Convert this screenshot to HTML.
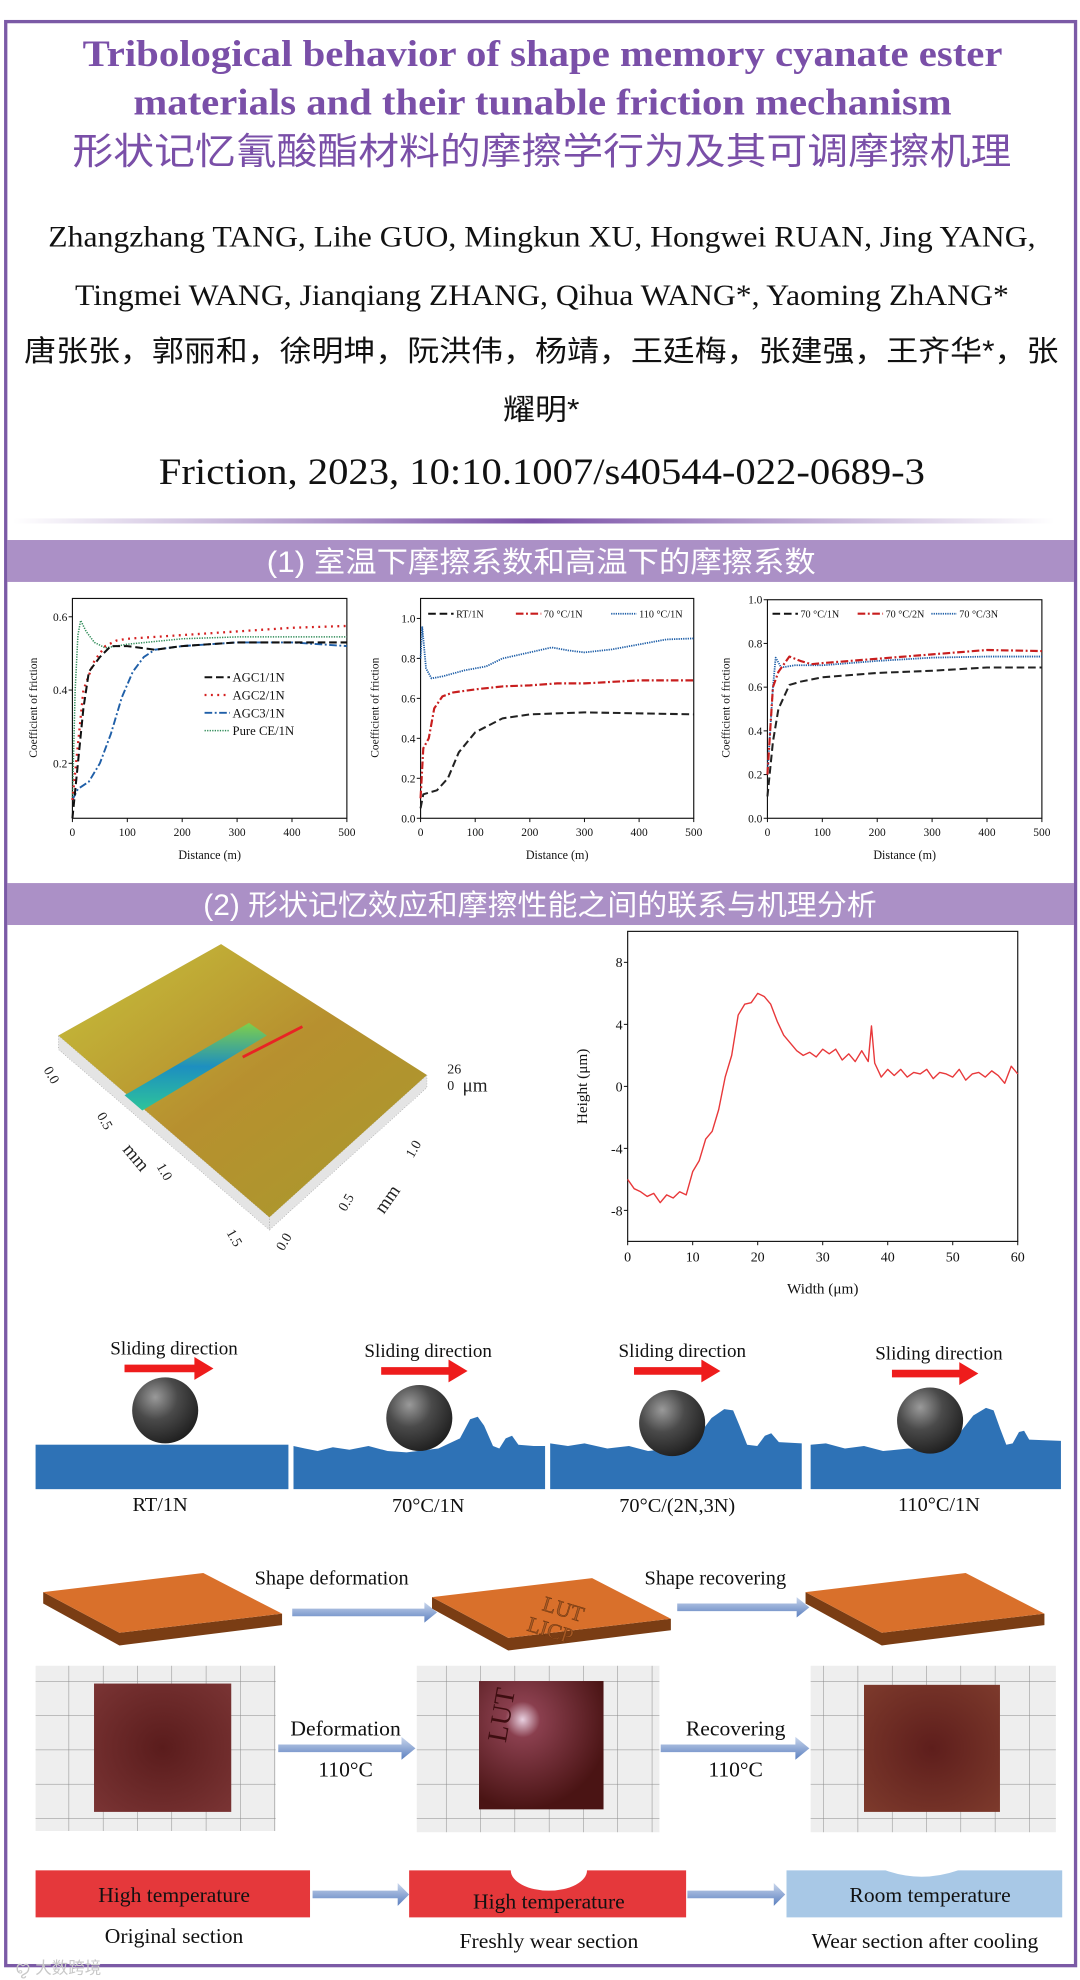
<!DOCTYPE html>
<html><head><meta charset="utf-8"><title>Shape memory cyanate ester friction</title>
<style>
html,body{margin:0;padding:0;background:#fff;}
svg{display:block;}
.serif{font-family:"Liberation Serif","Noto Serif CJK SC",serif;}
.cjk{font-family:"Liberation Sans","Noto Sans CJK SC",sans-serif;}
</style></head>
<body>
<svg id="page" xmlns="http://www.w3.org/2000/svg" width="1080" height="1980" viewBox="0 0 850 1558.3" preserveAspectRatio="none">
<defs>
<linearGradient id="divGrad" x1="0" x2="1" y1="0" y2="0">
<stop offset="0" stop-color="#7b52a8" stop-opacity="0"/><stop offset="0.5" stop-color="#7b52a8"/><stop offset="1" stop-color="#7b52a8" stop-opacity="0"/></linearGradient>
<radialGradient id="ballGrad" cx="0.35" cy="0.3" r="0.75">
<stop offset="0" stop-color="#9a9a9a"/><stop offset="0.45" stop-color="#4a4a4a"/><stop offset="1" stop-color="#1e1e1e"/></radialGradient>
<linearGradient id="arrowGrad" x1="0" x2="0" y1="0" y2="1">
<stop offset="0" stop-color="#c9d6ec"/><stop offset="1" stop-color="#5b7fbf"/></linearGradient>
<linearGradient id="surfGrad" x1="0" x2="1" y1="0" y2="1">
<stop offset="0" stop-color="#c7c23b"/><stop offset="0.5" stop-color="#b7902f"/><stop offset="1" stop-color="#a79a2c"/></linearGradient>
<linearGradient id="grooveGrad" x1="0" x2="0" y1="0" y2="1">
<stop offset="0" stop-color="#7fcf4a"/><stop offset="0.5" stop-color="#1d8fc0"/><stop offset="1" stop-color="#2ec49a"/></linearGradient>
<radialGradient id="sqGrad" cx="0.5" cy="0.5" r="0.7">
<stop offset="0" stop-color="#5a1c1c"/><stop offset="1" stop-color="#7a3434"/></radialGradient>
<radialGradient id="sqGrad2" cx="0.35" cy="0.3" r="0.7">
<stop offset="0" stop-color="#e8d0e0"/><stop offset="0.2" stop-color="#8a3f4e"/><stop offset="1" stop-color="#4a1414"/></radialGradient>
<radialGradient id="sqGrad3" cx="0.5" cy="0.5" r="0.7">
<stop offset="0" stop-color="#5e1e1c"/><stop offset="1" stop-color="#7d3a2c"/></radialGradient>
<pattern id="gridPat" width="27" height="27" patternUnits="userSpaceOnUse">
<rect width="27" height="27" fill="#eeeeee"/><path d="M0 0H27M0 0V27" stroke="#8a8a8a" stroke-width="0.8"/></pattern>
</defs>

<!-- frame -->
<rect x="4.5" y="17" width="842" height="1530" fill="#fff" stroke="#7b5aa6" stroke-width="2.6"/>

<!-- title -->
<g fill="#7a4fa8">
<text class="serif" x="65" y="52" font-size="29" font-weight="bold" textLength="724" lengthAdjust="spacingAndGlyphs">Tribological behavior of shape memory cyanate ester</text>
<text class="serif" x="105" y="90" font-size="29" font-weight="bold" textLength="644" lengthAdjust="spacingAndGlyphs">materials and their tunable friction mechanism</text>
<text class="cjk" x="57" y="129" font-size="29" textLength="739" lengthAdjust="spacingAndGlyphs">形状记忆氰酸酯材料的摩擦学行为及其可调摩擦机理</text>
</g>
<g fill="#111">
<text class="serif" x="38" y="194" font-size="23" textLength="777" lengthAdjust="spacingAndGlyphs">Zhangzhang TANG, Lihe GUO, Mingkun XU, Hongwei RUAN, Jing YANG,</text>
<text class="serif" x="59" y="240" font-size="23" textLength="735" lengthAdjust="spacingAndGlyphs">Tingmei WANG, Jianqiang ZHANG, Qihua WANG*, Yaoming ZhANG*</text>
<text class="cjk" x="19" y="284" font-size="23" textLength="814" lengthAdjust="spacingAndGlyphs">唐张张，郭丽和，徐明坤，阮洪伟，杨靖，王廷梅，张建强，王齐华*，张</text>
<text class="cjk" x="396" y="330" font-size="23" textLength="60" lengthAdjust="spacingAndGlyphs">耀明*</text>
<text class="serif" x="125" y="381" font-size="29" textLength="603" lengthAdjust="spacingAndGlyphs">Friction, 2023, 10:10.1007/s40544-022-0689-3</text>
</g>
<rect x="10" y="408" width="820" height="4" fill="url(#divGrad)"/>

<!-- section 1 -->
<rect x="5.8" y="425" width="839.5" height="33" fill="#ab90c6"/>
<text class="cjk" x="210" y="450" font-size="23" fill="#fff" textLength="432" lengthAdjust="spacingAndGlyphs">(1) 室温下摩擦系数和高温下的摩擦系数</text>
<g id="charts1"></g>

<!-- section 2 -->
<rect x="5.8" y="695" width="839.5" height="33" fill="#ab90c6"/>
<text class="cjk" x="160" y="720" font-size="23" fill="#fff" textLength="530" lengthAdjust="spacingAndGlyphs">(2) 形状记忆效应和摩擦性能之间的联系与机理分析</text>

<!-- 3D surface -->
<g>
<polygon points="174,743 46,815 46,824 174,752" fill="#d8d8d8"/>
<polygon points="46,815 212,958 212,968 46,826" fill="#e4e4e4" stroke="#999" stroke-width="0.5" stroke-dasharray="0.6,1.6"/>
<polygon points="212,958 336,846 336,856 212,968" fill="#e4e4e4" stroke="#999" stroke-width="0.5" stroke-dasharray="0.6,1.6"/>
<polygon points="174,743 46,815 212,958 336,846" fill="url(#surfGrad)"/>
<polygon points="98,862 196,805 210,815 112,874" fill="url(#grooveGrad)"/>
<line x1="191" y1="832" x2="238" y2="808" stroke="#e82424" stroke-width="2.2"/>
<g class="serif" font-size="11" fill="#222">
<text transform="translate(34,842) rotate(60)">0.0</text>
<text transform="translate(76,878) rotate(60)">0.5</text>
<text font-size="15" transform="translate(96,905) rotate(50)">mm</text>
<text transform="translate(123,918) rotate(60)">1.0</text>
<text transform="translate(178,970) rotate(60)">1.5</text>
<text transform="translate(223,985) rotate(-60)">0.0</text>
<text transform="translate(272,954) rotate(-60)">0.5</text>
<text font-size="15" transform="translate(302,956) rotate(-55)">mm</text>
<text transform="translate(325,912) rotate(-60)">1.0</text>
<text x="352" y="845" font-size="11">26</text>
<text x="352" y="858" font-size="11">0</text>
<text x="364" y="859" font-size="15">μm</text>
</g>
</g>

<g id="heightChart"></g>

<!-- sliding diagrams -->
<g id="sliding">
<g class="serif" font-size="15" fill="#111" text-anchor="middle">
<text x="137" y="1066">Sliding direction</text>
<text x="337" y="1068">Sliding direction</text>
<text x="537" y="1068">Sliding direction</text>
<text x="739" y="1070">Sliding direction</text>
</g>
<g fill="#ee1c1c">
<path d="M98 1074H153V1068L168 1077L153 1086V1080H98Z"/>
<path d="M300 1076H353V1070L368 1079L353 1088V1082H300Z"/>
<path d="M499 1076H552V1070L567 1079L552 1088V1082H499Z"/>
<path d="M702 1078H755V1072L770 1081L755 1090V1084H702Z"/>
</g>
<g fill="#2e72b6">
<rect x="28" y="1137" width="199" height="35"/>
<path d="M231 1172V1138L240 1140L250 1142L262 1139L275 1141L290 1138L305 1142L320 1143L345 1140L362 1132L370 1117L376 1115L381 1122L388 1138L393 1140L398 1132L403 1130L408 1137L420 1138L429 1138V1172Z"/>
<path d="M433 1172V1136L447 1138L460 1136L478 1140L495 1138L510 1142L530 1140L548 1132L560 1116L570 1109L577 1110L582 1122L588 1137L596 1138L602 1130L607 1128L613 1135L631 1136V1172Z"/>
<path d="M638 1172V1137L650 1136L665 1140L680 1138L695 1142L715 1140L735 1142L752 1132L766 1114L776 1108L782 1110L787 1124L792 1137L797 1136L802 1127L806 1126L810 1133L835 1134V1172Z"/>
</g>
<circle cx="130" cy="1110" r="26" fill="url(#ballGrad)"/>
<circle cx="330" cy="1116" r="26" fill="url(#ballGrad)"/>
<circle cx="529" cy="1120" r="26" fill="url(#ballGrad)"/>
<circle cx="732" cy="1118" r="26" fill="url(#ballGrad)"/>
<g class="serif" font-size="16" fill="#111" text-anchor="middle">
<text x="126" y="1189">RT/1N</text>
<text x="337" y="1190">70°C/1N</text>
<text x="533" y="1190">70°C/(2N,3N)</text>
<text x="739" y="1189">110°C/1N</text>
</g>
</g>

<!-- plates -->
<g>
<g transform="translate(0,0)">
<polygon points="34,1253 94,1285 222,1270 222,1279 94,1295 34,1262" fill="#7a3d14"/>
<polygon points="34,1253 160,1238 222,1270 94,1285" fill="#d9702b"/>
</g>
<g transform="translate(306,4)">
<polygon points="34,1253 94,1285 222,1270 222,1279 94,1295 34,1262" fill="#7a3d14"/>
<polygon points="34,1253 160,1238 222,1270 94,1285" fill="#d9702b"/>
<text class="serif" font-size="17" fill="#a85a25" stroke="#6b3510" stroke-width="0.4" transform="translate(120,1263) rotate(17)">LUT</text>
<text class="serif" font-size="17" fill="#a85a25" stroke="#6b3510" stroke-width="0.4" transform="translate(108,1279) rotate(17)">LICP</text>
</g>
<g transform="translate(600,0)">
<polygon points="34,1253 94,1285 222,1270 222,1279 94,1295 34,1262" fill="#7a3d14"/>
<polygon points="34,1253 160,1238 222,1270 94,1285" fill="#d9702b"/>
</g>
<text class="serif" x="261" y="1247" font-size="16" text-anchor="middle" fill="#111">Shape deformation</text>
<text class="serif" x="563" y="1247" font-size="16" text-anchor="middle" fill="#111">Shape recovering</text>
<path d="M230 1266H334V1261L344 1269L334 1277V1272H230Z" fill="url(#arrowGrad)"/>
<path d="M533 1262H627V1257L637 1265L627 1273V1268H533Z" fill="url(#arrowGrad)"/>
</g>

<!-- photos -->
<g>
<rect x="28" y="1311" width="189" height="130" fill="url(#gridPat)"/>
<rect x="74" y="1325" width="108" height="101" fill="url(#sqGrad)"/>
<rect x="328" y="1311" width="191" height="131" fill="url(#gridPat)"/>
<rect x="377" y="1323" width="98" height="101" fill="url(#sqGrad2)"/>
<text class="serif" font-size="22" fill="#3d0d10" transform="translate(398,1372) rotate(-80)">LUT</text>
<rect x="638" y="1311" width="193" height="131" fill="url(#gridPat)"/>
<rect x="680" y="1326" width="107" height="100" fill="url(#sqGrad3)"/>
<g class="serif" font-size="17" fill="#111" text-anchor="middle">
<text x="272" y="1366">Deformation</text>
<text x="272" y="1398">110°C</text>
<text x="579" y="1366">Recovering</text>
<text x="579" y="1398">110°C</text>
</g>
<path d="M219 1373H316V1367L327 1376L316 1385V1379H219Z" fill="url(#arrowGrad)"/>
<path d="M520 1373H626V1367L637 1376L626 1385V1379H520Z" fill="url(#arrowGrad)"/>
</g>

<!-- wear sections -->
<g>
<rect x="28" y="1472" width="216" height="37" fill="#e5383b"/>
<path d="M322 1472H402A30 16 0 0 0 462 1472H540V1509H322Z" fill="#e5383b"/>
<path d="M619 1472H697Q725 1482 754 1472H836V1509H619Z" fill="#a8c8e6"/>
<g class="serif" font-size="17" fill="#111" text-anchor="middle">
<text x="137" y="1497">High temperature</text>
<text x="432" y="1502">High temperature</text>
<text x="732" y="1497">Room temperature</text>
<text x="137" y="1529">Original section</text>
<text x="432" y="1533">Freshly wear section</text>
<text x="728" y="1533">Wear section after cooling</text>
</g>
<path d="M246 1488H313V1482L322 1491L313 1500V1494H246Z" fill="url(#arrowGrad)"/>
<path d="M541 1488H609V1482L618 1491L609 1500V1494H541Z" fill="url(#arrowGrad)"/>
</g>
<text class="cjk" x="12" y="1553" font-size="13" fill="#c8c8c8">ꨄ 大数跨境</text>
</svg>

<script>
// ===== Chart 1 data (room temperature) =====
const c1AGC1X = [0,10,20,30,50,70,100,150,200,300,400,500];
const c1AGC1Y = [0.05,0.2,0.35,0.45,0.49,0.52,0.52,0.51,0.52,0.53,0.53,0.53];
const c1AGC2X = [0,10,20,40,60,80,100,200,300,400,500];
const c1AGC2Y = [0.1,0.25,0.4,0.48,0.52,0.535,0.54,0.55,0.56,0.57,0.575];
const c1AGC3X = [0,10,30,50,70,90,110,130,150,200,300,400,500];
const c1AGC3Y = [0.1,0.13,0.15,0.2,0.28,0.38,0.45,0.49,0.51,0.52,0.53,0.53,0.52];
const c1CEX = [0,5,10,15,25,40,60,80,100,200,300,400,500];
const c1CEY = [0.1,0.4,0.55,0.59,0.56,0.53,0.515,0.52,0.525,0.54,0.545,0.545,0.545];
const c1YTicks = [0.2,0.4,0.6];
const c1YLabels = ["0.2","0.4","0.6"];
const distTicks = [0,100,200,300,400,500];
const distLabels = ["0","100","200","300","400","500"];
const c1Legend = ["AGC1/1N","AGC2/1N","AGC3/1N","Pure CE/1N"];
// ===== Chart 2 data (temperature) =====
const c2RTX = [0,5,30,50,70,100,150,200,300,400,500];
const c2RTY = [0.05,0.12,0.14,0.2,0.33,0.43,0.5,0.52,0.53,0.525,0.52];
const c2T70X = [0,5,15,25,40,60,100,150,200,250,300,400,500];
const c2T70Y = [0.1,0.35,0.4,0.55,0.61,0.63,0.645,0.66,0.665,0.675,0.675,0.69,0.69];
const c2T110X = [0,3,10,20,40,80,120,150,200,240,270,300,350,400,450,500];
const c2T110Y = [0.8,0.96,0.75,0.7,0.71,0.74,0.76,0.8,0.83,0.855,0.84,0.83,0.845,0.87,0.895,0.9];
const c2YTicks = [0,0.2,0.4,0.6,0.8,1.0];
const c2YLabels = ["0.0","0.2","0.4","0.6","0.8","1.0"];
const c2Legend = ["RT/1N","70 °C/1N","110 °C/1N"];
// ===== Chart 3 data (load) =====
const c3N1X = [0,10,20,40,60,100,150,200,300,400,500];
const c3N1Y = [0.1,0.35,0.5,0.61,0.625,0.645,0.655,0.665,0.675,0.69,0.69];
const c3N2X = [0,10,20,40,60,80,100,200,300,400,500];
const c3N2Y = [0.2,0.6,0.67,0.74,0.72,0.705,0.71,0.73,0.75,0.77,0.765];
const c3N3X = [0,10,15,25,50,100,200,300,400,500];
const c3N3Y = [0.2,0.6,0.735,0.69,0.7,0.7,0.72,0.735,0.74,0.74];
const c3YTicks = [0,0.2,0.4,0.6,0.8,1.0];
const c3YLabels = ["0.0","0.2","0.4","0.6","0.8","1.0"];
const c3Legend = ["70 °C/1N","70 °C/2N","70 °C/3N"];
// ===== Height profile data =====
const hWidth = [0,1,2,3,4,5,6,7,8,9,10,11,12,13,14,15,16,17,18,19,20,21,22,23,24,25,26,27,28,29,30,31,32,33,34,35,36,37,37.5,38,39,40,41,42,43,44,45,46,47,48,49,50,51,52,53,54,55,56,57,58,59,60];
const hHeight = [-6,-6.6,-6.8,-7.1,-6.9,-7.5,-7,-7.2,-6.8,-7,-5.5,-4.8,-3.4,-2.9,-1.5,0.6,2,4.6,5.3,5.4,6,5.8,5.3,4.2,3.3,2.8,2.3,2,2.2,1.9,2.4,2.1,2.4,1.7,2.1,1.6,2.3,1.6,3.9,1.5,0.6,1.1,0.7,1.1,0.6,0.9,0.8,1.1,0.5,0.9,0.8,0.6,1.1,0.4,0.8,0.9,0.6,1.0,0.7,0.2,1.3,0.8];
const hYTicks = [-8,-4,0,4,8];
const hYLabels = ["-8","-4","0","4","8"];
const hXTicks = [0,10,20,30,40,50,60];
const hXLabels = ["0","10","20","30","40","50","60"];

const NS = "http://www.w3.org/2000/svg";
function mk(tag, parent){ const e = document.createElementNS(NS, tag); parent.appendChild(e); return e; }
function scaler(d0,d1,r0,r1){ return v => r0 + (v-d0)/(d1-d0)*(r1-r0); }

function drawAxes(g, box, sx, sy, yTicks, yLabels, xTicks, xLabels, yTitle, xTitle, fs){
  const r = mk('rect', g);
  
  
  r.setAttribute('x', box.x0); r.setAttribute('y', box.y1);
  r.setAttribute('width', box.x1-box.x0); r.setAttribute('height', box.y0-box.y1);
  r.setAttribute('fill', 'none'); r.setAttribute('stroke', '#111'); r.setAttribute('stroke-width', '0.9');
  yTicks.forEach((v,i) => {
    const t = mk('line', g);
    
    
    t.setAttribute('x1', box.x0-3); t.setAttribute('x2', box.x0); t.setAttribute('y1', sy(v)); t.setAttribute('y2', sy(v));
    t.setAttribute('stroke', '#111'); t.setAttribute('stroke-width', '0.8');
    const l = mk('text', g);
    
    
    l.setAttribute('x', box.x0-4); l.setAttribute('y', sy(v)+fs*0.35);
    l.setAttribute('text-anchor', 'end'); l.setAttribute('font-size', fs);
    l.textContent = yLabels[i];
  });
  xTicks.forEach((v,i) => {
    const t = mk('line', g);
    
    
    t.setAttribute('x1', sx(v)); t.setAttribute('x2', sx(v)); t.setAttribute('y1', box.y0); t.setAttribute('y2', box.y0+3);
    t.setAttribute('stroke', '#111'); t.setAttribute('stroke-width', '0.8');
    const l = mk('text', g);
    
    
    l.setAttribute('x', sx(v)); l.setAttribute('y', box.y0+fs+5);
    l.setAttribute('text-anchor', 'middle'); l.setAttribute('font-size', fs);
    l.textContent = xLabels[i];
  });
  const yt = mk('text', g);
  
  
  yt.setAttribute('transform', 'translate(' + yTitle.x + ',' + yTitle.y + ') rotate(-90)');
  yt.setAttribute('text-anchor', 'middle'); yt.setAttribute('font-size', yTitle.fs);
  yt.textContent = yTitle.text;
  const xt = mk('text', g);
  
  
  xt.setAttribute('x', (box.x0+box.x1)/2); xt.setAttribute('y', xTitle.y);
  xt.setAttribute('text-anchor', 'middle'); xt.setAttribute('font-size', xTitle.fs);
  xt.textContent = xTitle.text;
}

function drawSeries(g, xs, ys, sx, sy, stroke, dash, w, name){
  const p = mk('path', g);
  
  
  p.setAttribute('d', xs.map((x,i) => (i ? 'L' : 'M') + sx(x).toFixed(2) + ' ' + sy(ys[i]).toFixed(2)).join(''));
  p.setAttribute('fill', 'none'); p.setAttribute('stroke', stroke); p.setAttribute('stroke-width', w);
  if (dash) p.setAttribute('stroke-dasharray', dash);
  p.setAttribute('stroke-linejoin', 'round');
}

function legendEntry(g, x, y, label, stroke, dash, w, fs){
  const ln = mk('line', g);
  
  
  ln.setAttribute('x1', x); ln.setAttribute('x2', x+20); ln.setAttribute('y1', y); ln.setAttribute('y2', y);
  ln.setAttribute('stroke', stroke); ln.setAttribute('stroke-width', w);
  if (dash) ln.setAttribute('stroke-dasharray', dash);
  const t = mk('text', g);
  
  
  t.setAttribute('x', x+22); t.setAttribute('y', y+fs*0.35); t.setAttribute('font-size', fs);
  t.textContent = label;
}

const charts = document.getElementById('charts1');
charts.setAttribute('font-family', '"Liberation Serif", serif');
charts.setAttribute('fill', '#111');

// Chart 1
const g1 = mk('g', charts);


const b1 = {x0:57, x1:273, y0:644, y1:471};
const sx1 = scaler(0,500,b1.x0,b1.x1), sy1 = scaler(0.05,0.65,b1.y0,b1.y1);
drawAxes(g1, b1, sx1, sy1, c1YTicks, c1YLabels, distTicks, distLabels, {x:29,y:557,fs:9,text:'Coefficient of friction'}, {y:676,fs:9.5,text:'Distance (m)'}, 9);
drawSeries(g1, c1CEX, c1CEY, sx1, sy1, '#2e8b57', '1,1', 1.2, 'series-pure-ce');
drawSeries(g1, c1AGC3X, c1AGC3Y, sx1, sy1, '#1f5fa8', '6,2,1.5,2', 1.5, 'series-agc3');
drawSeries(g1, c1AGC2X, c1AGC2Y, sx1, sy1, '#d42020', '1.5,3.5', 1.8, 'series-agc2');
drawSeries(g1, c1AGC1X, c1AGC1Y, sx1, sy1, '#111', '6,3', 1.6, 'series-agc1');
legendEntry(g1, 161, 533, c1Legend[0], '#111', '6,3', 1.6, 10);
legendEntry(g1, 161, 547, c1Legend[1], '#d42020', '1.5,3.5', 1.8, 10);
legendEntry(g1, 161, 561, c1Legend[2], '#1f5fa8', '6,2,1.5,2', 1.5, 10);
legendEntry(g1, 161, 575, c1Legend[3], '#2e8b57', '1,1', 1.2, 10);

// Chart 2
const g2 = mk('g', charts);


const b2 = {x0:331, x1:546, y0:644, y1:471};
const sx2 = scaler(0,500,b2.x0,b2.x1), sy2 = scaler(0,1.1,b2.y0,b2.y1);
drawAxes(g2, b2, sx2, sy2, c2YTicks, c2YLabels, distTicks, distLabels, {x:298,y:557,fs:9,text:'Coefficient of friction'}, {y:676,fs:9.5,text:'Distance (m)'}, 9);
drawSeries(g2, c2T110X, c2T110Y, sx2, sy2, '#1f5fa8', '1,0.8', 1.4, 'series-110c');
drawSeries(g2, c2T70X, c2T70Y, sx2, sy2, '#c81e1e', '6,2,1.5,2', 1.7, 'series-70c');
drawSeries(g2, c2RTX, c2RTY, sx2, sy2, '#222', '6,3', 1.6, 'series-rt');
legendEntry(g2, 337, 483, c2Legend[0], '#111', '6,3', 1.6, 8);
legendEntry(g2, 406, 483, c2Legend[1], '#c81e1e', '6,2,1.5,2', 1.7, 8);
legendEntry(g2, 481, 483, c2Legend[2], '#1f5fa8', '1,0.8', 1.4, 8);

// Chart 3
const g3 = mk('g', charts);


const b3 = {x0:604, x1:820, y0:644, y1:472};
const sx3 = scaler(0,500,b3.x0,b3.x1), sy3 = scaler(0,1.0,b3.y0,b3.y1);
drawAxes(g3, b3, sx3, sy3, c3YTicks, c3YLabels, distTicks, distLabels, {x:574,y:557,fs:9,text:'Coefficient of friction'}, {y:676,fs:9.5,text:'Distance (m)'}, 9);
drawSeries(g3, c3N3X, c3N3Y, sx3, sy3, '#1f5fa8', '1,0.8', 1.4, 'series-3n');
drawSeries(g3, c3N2X, c3N2Y, sx3, sy3, '#c81e1e', '6,2,1.5,2', 1.7, 'series-2n');
drawSeries(g3, c3N1X, c3N1Y, sx3, sy3, '#222', '6,3', 1.6, 'series-1n');
legendEntry(g3, 608, 483, c3Legend[0], '#111', '6,3', 1.6, 8);
legendEntry(g3, 675, 483, c3Legend[1], '#c81e1e', '6,2,1.5,2', 1.7, 8);
legendEntry(g3, 733, 483, c3Legend[2], '#1f5fa8', '1,0.8', 1.4, 8);

// Height profile chart
const hg = document.getElementById('heightChart');
hg.setAttribute('font-family', '"Liberation Serif", serif');
hg.setAttribute('fill', '#111');
const bh = {x0:494, x1:801, y0:977, y1:733};
const sxh = scaler(0,60,bh.x0,bh.x1), syh = scaler(-10,10,bh.y0,bh.y1);
drawAxes(hg, bh, sxh, syh, hYTicks, hYLabels, hXTicks, hXLabels, {x:462,y:855,fs:12,text:'Height (μm)'}, {y:1018,fs:12,text:'Width (μm)'}, 11);
drawSeries(hg, hWidth, hHeight, sxh, syh, '#e8383a', null, 1.1, 'series-height-profile');
</script>
</body></html>
